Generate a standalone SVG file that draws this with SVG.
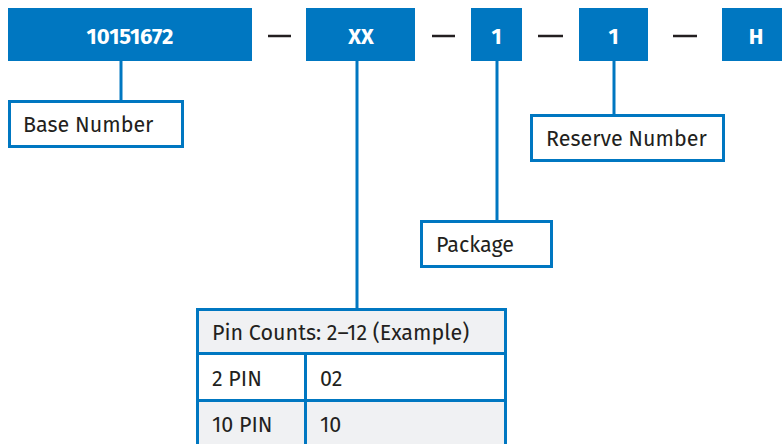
<svg xmlns="http://www.w3.org/2000/svg" width="782" height="444" viewBox="0 0 782 444">
<style>
.seg{fill:#0077c1}
.segt{font-family:"Fira Sans","Noto Sans","Open Sans",sans-serif;font-weight:bold;font-size:22px;fill:#fff;text-anchor:middle}
.lbl{fill:#fff;stroke:#0077c1;stroke-width:3}
.t{font-family:"Fira Sans","Noto Sans","Open Sans",sans-serif;font-size:21.5px;fill:#231f20}
.dash{stroke:#231f20;stroke-width:2.5}
.conn{stroke:#0077c1;stroke-width:3;fill:none}
.cell{stroke:#0077c1;stroke-width:3}
</style>
<rect width="782" height="444" fill="#fff"/>
<g id="seg-base"><rect class="seg" x="8" y="8" width="244" height="53"/><text class="segt" x="130" y="44">10151672</text></g>
<g id="seg-xx"><rect class="seg" x="306" y="8" width="109" height="53"/><text class="segt" x="361" y="44">XX</text></g>
<g id="seg-pkg"><rect class="seg" x="471" y="8" width="51" height="53"/><text class="segt" x="496.5" y="44">1</text></g>
<g id="seg-res"><rect class="seg" x="579" y="8" width="69" height="53"/><text class="segt" x="613.5" y="44">1</text></g>
<g id="seg-h"><rect class="seg" x="722" y="8" width="62" height="53"/><text class="segt" x="756" y="44">H</text></g>
<g id="dashes">
<line class="dash" x1="268" y1="36" x2="291" y2="36"/>
<line class="dash" x1="432" y1="36" x2="455" y2="36"/>
<line class="dash" x1="538" y1="36" x2="563" y2="36"/>
<line class="dash" x1="673" y1="36" x2="697" y2="36"/>
</g>
<g id="connectors">
<line class="conn" x1="121" y1="61" x2="121" y2="100"/>
<line class="conn" x1="357" y1="61" x2="357" y2="308"/>
<line class="conn" x1="497" y1="61" x2="497" y2="220"/>
<line class="conn" x1="614" y1="61" x2="614" y2="114"/>
</g>
<g id="base-number"><rect class="lbl" x="9.5" y="101.5" width="173" height="45"/><text class="t" x="23" y="132">Base Number</text></g>
<g id="reserve-number"><rect class="lbl" x="531.5" y="115.5" width="192" height="45"/><text class="t" x="546" y="146">Reserve Number</text></g>
<g id="package"><rect class="lbl" x="421.5" y="221.5" width="130" height="45"/><text class="t" x="436" y="252">Package</text></g>
<g id="pin-table">
<rect class="cell" x="197.5" y="309.5" width="308" height="44" fill="#f0f1f3"/>
<rect class="cell" x="197.5" y="353.5" width="308" height="47" fill="#fff"/>
<rect class="cell" x="197.5" y="400.5" width="308" height="50" fill="#f0f1f3"/>
<line class="cell" x1="305.5" y1="353.5" x2="305.5" y2="444"/>
<text class="t" x="212" y="340">Pin Counts: 2–12 (Example)</text>
<text class="t" x="212" y="386">2 PIN</text>
<text class="t" x="320" y="386">02</text>
<text class="t" x="212" y="432">10 PIN</text>
<text class="t" x="320" y="432">10</text>
</g>
</svg>
